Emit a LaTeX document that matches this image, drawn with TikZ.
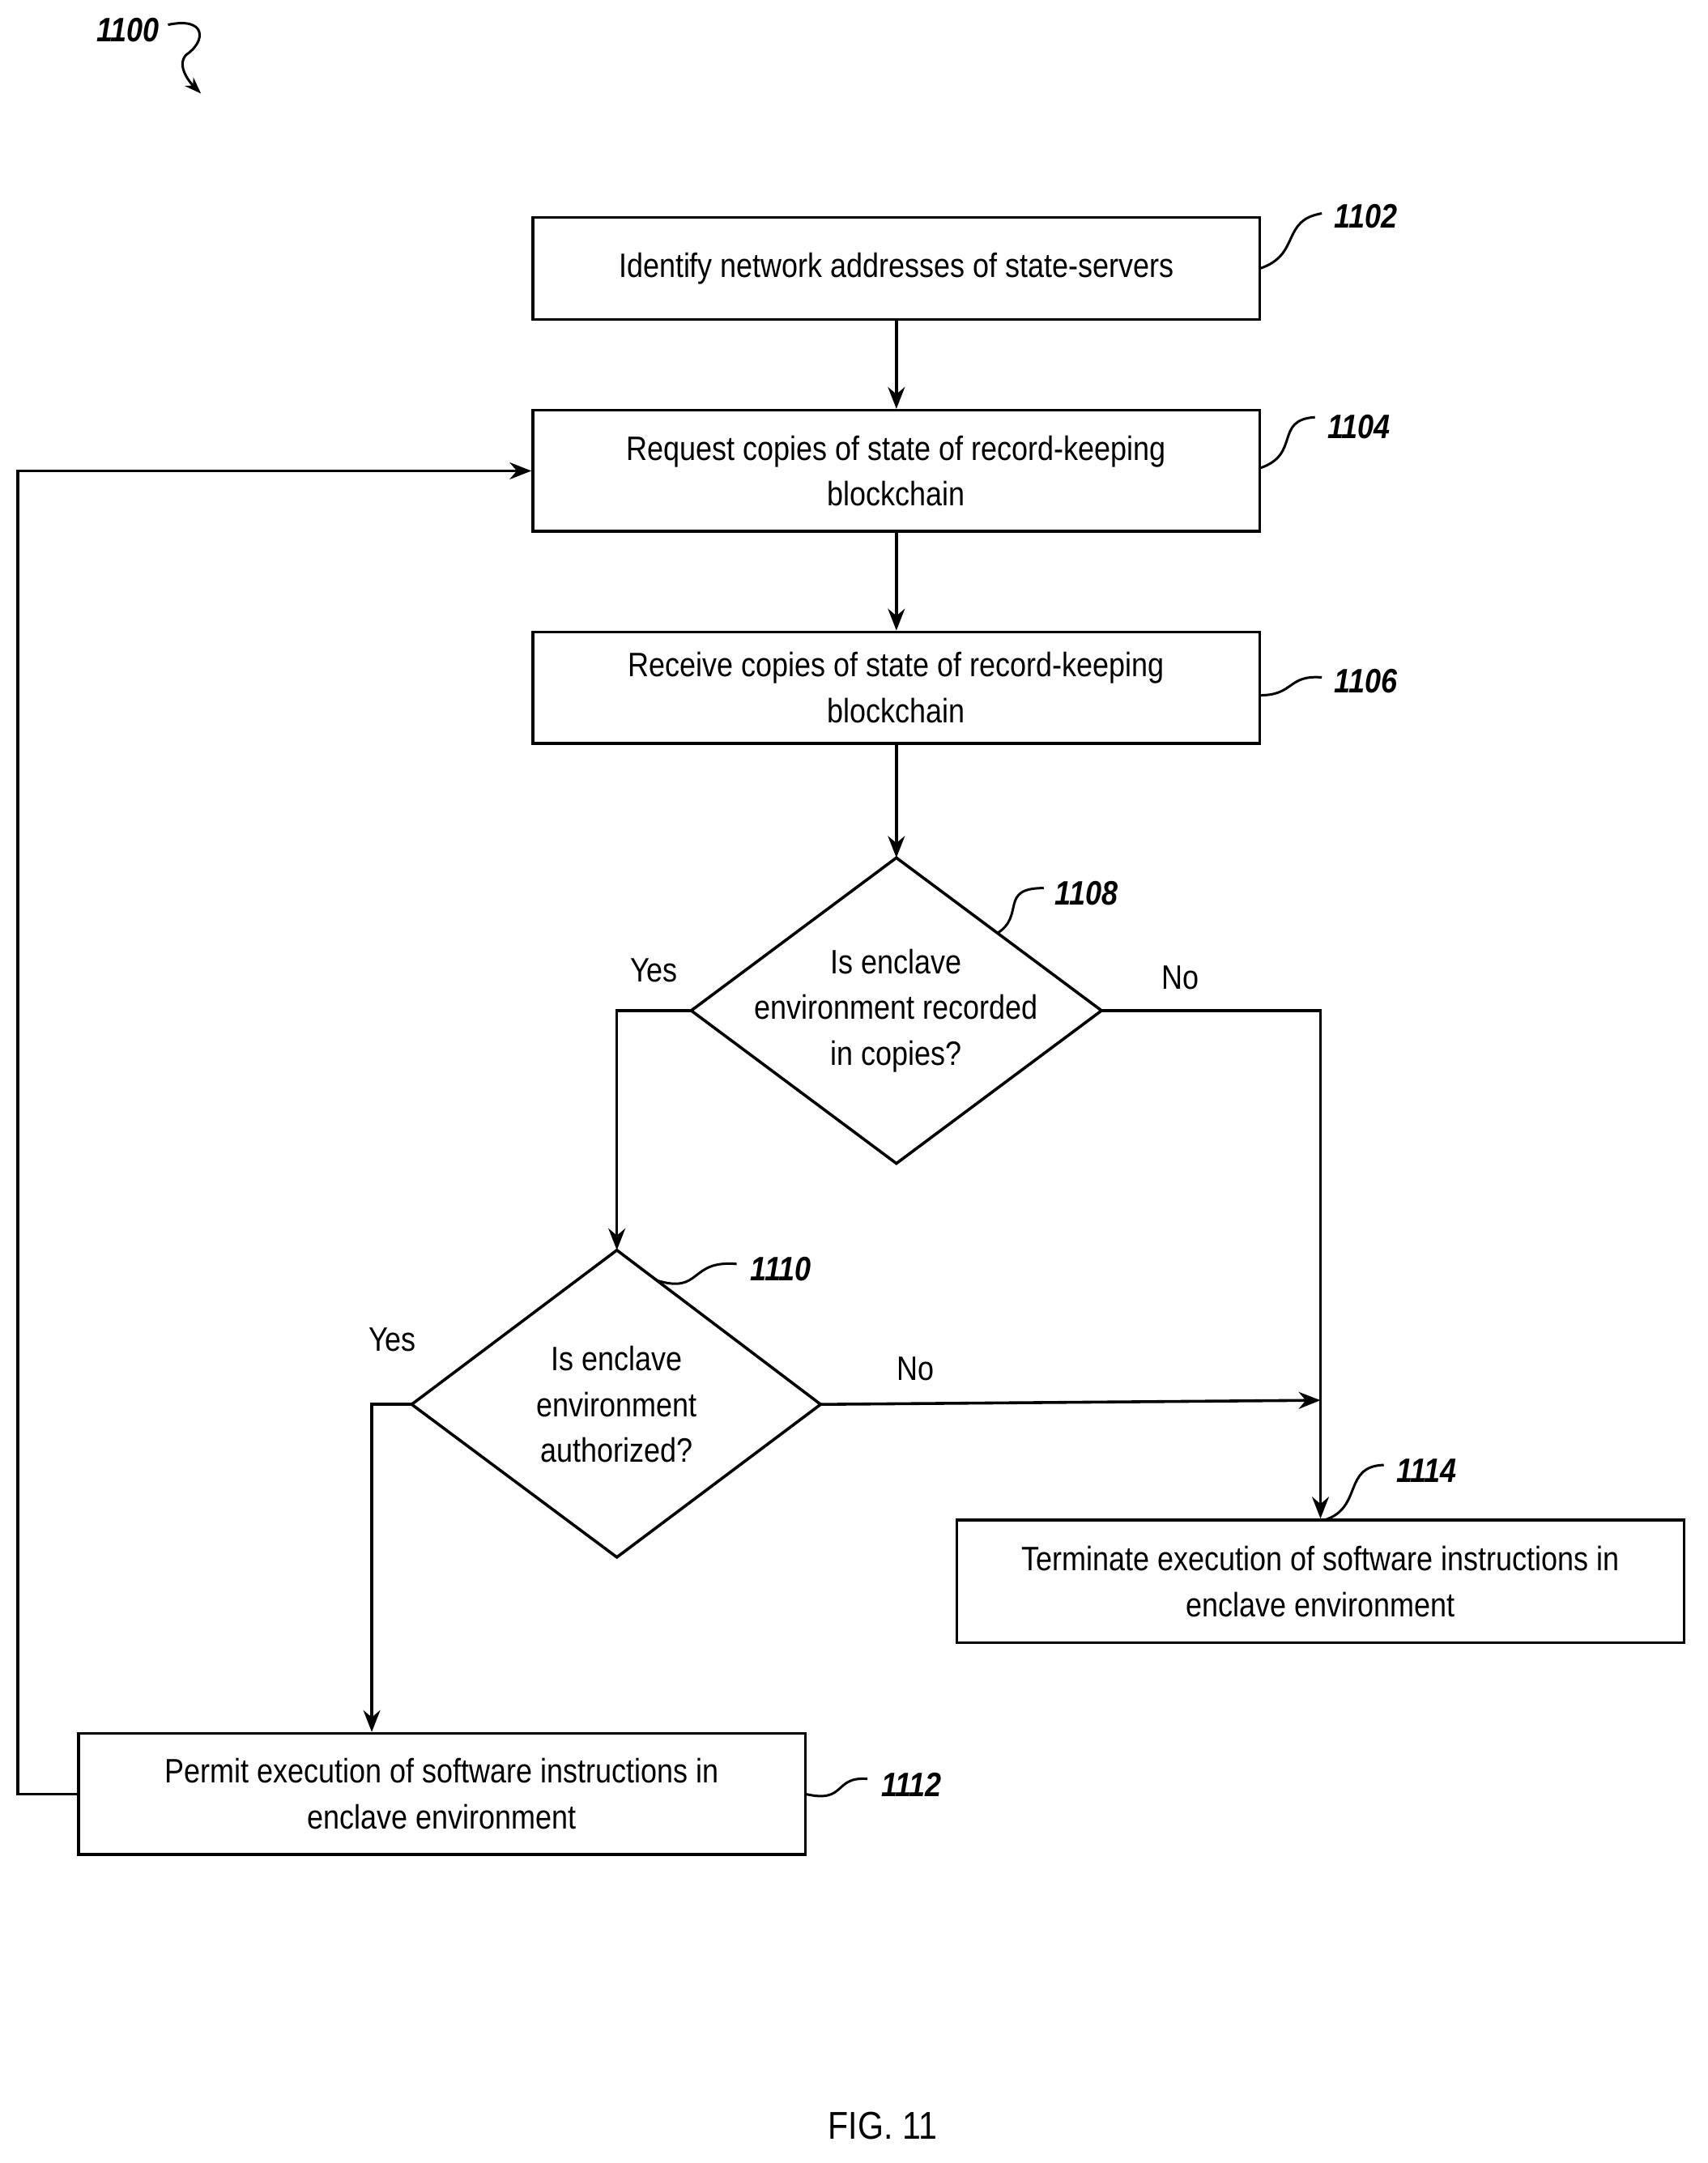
\documentclass[tikz,border=0pt]{standalone}
\usepackage{fontspec}
\setmainfont{Liberation Sans}[FakeStretch=0.86]
\usetikzlibrary{arrows.meta,shapes.geometric}
\begin{document}
\begin{tikzpicture}[x=0.02cm,y=-0.02cm,font=\fontsize{14}{19}\selectfont,
 box/.style={draw,line width=1.2pt,inner sep=0pt,align=center},
 dia/.style={draw,line width=1.2pt,diamond,inner sep=0pt,align=center},
 ar/.style={line width=1.2pt,-{Stealth[length=9pt,width=7pt]}},
 ln/.style={line width=1.2pt},
 ref/.style={font=\fontsize{14}{16}\selectfont\bfseries\itshape},
 lead/.style={line width=1pt}]
\useasboundingbox (0,0) rectangle (1240,1571);
\node[box,minimum width=528*0.02cm,minimum height=74*0.02cm] (b1) at (651,195) {Identify network addresses of state-servers};
\node[box,minimum width=528*0.02cm,minimum height=88*0.02cm] (b2) at (651,342) {Request copies of state of record-keeping\\blockchain};
\node[box,minimum width=528*0.02cm,minimum height=81*0.02cm] (b3) at (651,499.5) {Receive copies of state of record-keeping\\blockchain};
\draw[dia] (651,623) coordinate (d1t) -- (800,734) coordinate (d1r) -- (651,845) -- (502,734) coordinate (d1l) -- cycle;
\node[align=center] (d1) at (651,734) {Is enclave\\environment recorded\\in copies?};
\draw[dia] (448,908) coordinate (d2t) -- (596,1020) coordinate (d2r) -- (448,1131) -- (299,1020) coordinate (d2l) -- cycle;
\node[align=center] (d2) at (448,1020) {Is enclave\\environment\\authorized?};
\node[box,minimum width=528*0.02cm,minimum height=88*0.02cm] (b12) at (321,1303) {Permit execution of software instructions in\\enclave environment};
\node[box,minimum width=528*0.02cm,minimum height=89*0.02cm] (b14) at (959,1148.5) {Terminate execution of software instructions in\\enclave environment};
\draw[ar] (b1) -- (b2);
\draw[ar] (b2) -- (b3);
\draw[ar] (b3) -- (d1t);
\draw[ar] (d1l) -| (d2t);
\draw[ar] (d1r) -| (b14.north);
\draw[ar] (d2r) -- (959,1017);
\draw[ar] (d2l) -| (b12.north -| 270,0);
\draw[ar] (b12.west) -- (13,1303) |- (b2.west);
\node at (475,705) {Yes};
\node at (857,710) {No};
\node at (285,973) {Yes};
\node at (665,994) {No};
\node at (641,1544) {\fontsize{16}{18}\selectfont FIG. 11};
% refs
\node[ref] (r0) at (93,22) {1100};
\draw[lead,-{Stealth[length=7pt,width=5pt]}] (122,18) .. controls (150,12) and (150,30) .. (135,40) .. controls (128,48) and (138,60) .. (146,68);
\node[ref] (r1) at (992,157) {1102};
\draw[lead] (915,195) .. controls (945,185) and (930,160) .. (960,155);
\node[ref] (r2) at (987,310) {1104};
\draw[lead] (915,340) .. controls (945,330) and (925,305) .. (955,303);
\node[ref] (r3) at (992,495) {1106};
\draw[lead] (915,505) .. controls (940,505) and (935,490) .. (960,492);
\node[ref] (r4) at (789,649) {1108};
\draw[lead] (724,678) .. controls (745,665) and (725,645) .. (758,645);
\node[ref] (r5) at (567,922) {1110};
\draw[lead] (477,930) .. controls (510,940) and (500,915) .. (535,918);
\node[ref] (r6) at (662,1296) {1112};
\draw[lead] (585,1303) .. controls (615,1310) and (605,1290) .. (630,1292);
\node[ref] (r7) at (1036,1068) {1114};
\draw[lead] (962,1104) .. controls (990,1095) and (975,1065) .. (1005,1064);
\end{tikzpicture}
\end{document}
